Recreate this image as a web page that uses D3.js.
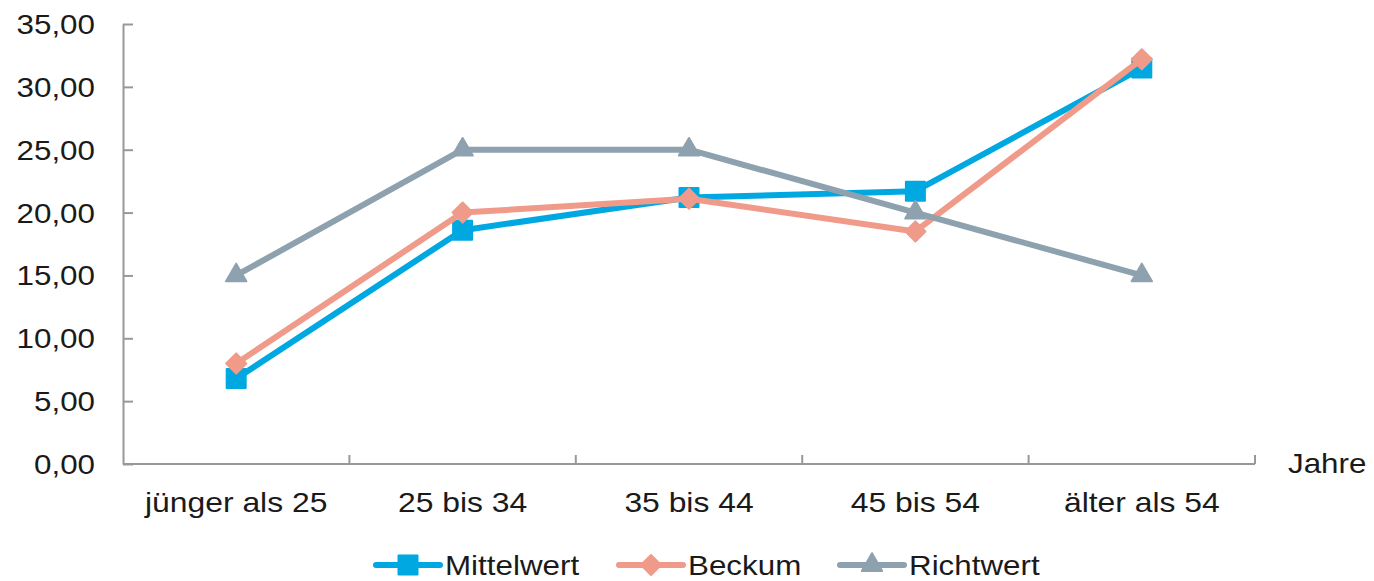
<!DOCTYPE html>
<html>
<head>
<meta charset="utf-8">
<script src="https://cdn.jsdelivr.net/npm/d3@7"></script>
<style>
  body { margin: 0; background: #fff; }
  text { font-family: "Liberation Sans", Arial, sans-serif; fill: #1a1a1a; }
</style>
</head>
<body>
<div id="chart"></div>
<script>
// data
var categories = ["jünger als 25", "25 bis 34", "35 bis 44", "45 bis 54", "älter als 54"];
var mittelwert = [6.8, 18.6, 21.2, 21.7, 31.5];
var beckum = [8.0, 20.0, 21.1, 18.5, 32.2];
var richtwert = [15, 25, 25, 20, 15];
var yTicks = [0, 5, 10, 15, 20, 25, 30, 35];

var width = 1374, height = 581;
var margin = { top: 24, right: 119, bottom: 117, left: 123 };
var innerW = width - margin.left - margin.right;
var innerH = height - margin.top - margin.bottom;
var axisColor = "#989898";

var svg = d3.select("#chart").append("svg")
  .attr("width", width)
  .attr("height", height);

var g = svg.append("g")
  .attr("transform", `translate(${margin.left}, ${margin.top})`);

var x = d3.scaleBand().domain(categories).range([0, innerW]);
var y = d3.scaleLinear().domain([0, 35]).range([innerH, 0]);

var fmt = d => d3.format(".2f")(d).replace(".", ",");

// the source text is a little stretched sideways
function addText(parent, tx, ty, str, size, anchor, sx) {
  return parent.append("text")
    .attr("transform", `translate(${tx}, ${ty}) scale(${sx || 1.12}, 1)`)
    .attr("text-anchor", anchor || "start")
    .style("font-size", size + "px")
    .text(str);
}

// y axis, ticks pointing inward
var leftAxis = d3.axisLeft(y).tickValues(yTicks).tickSizeInner(-10).tickSizeOuter(0).tickFormat("");
var yAxisG = g.append("g").call(leftAxis);
yAxisG.select(".domain").attr("stroke", axisColor).attr("stroke-width", 2);
yAxisG.selectAll(".tick line").attr("stroke", axisColor).attr("stroke-width", 2);
yTicks.forEach(function(t) {
  addText(g, -28, y(t) + 10, fmt(t), 28, "end");
});

// x axis, boundary ticks pointing up
var xAxisG = g.append("g").attr("transform", `translate(0, ${innerH})`);
xAxisG.append("line").attr("x1", 0).attr("x2", innerW).attr("y1", 0).attr("y2", 0)
  .attr("stroke", axisColor).attr("stroke-width", 2);
xAxisG.selectAll(".btick").data(categories).enter().append("line")
  .attr("x1", d => x(d) + x.bandwidth()).attr("x2", d => x(d) + x.bandwidth())
  .attr("y1", 0).attr("y2", -9)
  .attr("stroke", axisColor).attr("stroke-width", 2);
categories.forEach(function(c) {
  addText(xAxisG, x(c) + x.bandwidth() / 2, 48, c, 27, "middle", 1.18);
});

addText(g, innerW + 33, innerH + 9, "Jahre", 28, "start");

var diamond = {
  draw: function(ctx, size) {
    var r = Math.sqrt(size / 2);
    ctx.moveTo(0, -r); ctx.lineTo(r, 0); ctx.lineTo(0, r); ctx.lineTo(-r, 0); ctx.closePath();
  }
};

var series = [
  { name: "Mittelwert", values: mittelwert, color: "#00a8e1", symbol: d3.symbolSquare, size: 361 },
  { name: "Beckum", values: beckum, color: "#f09b8a", symbol: diamond, size: 200 },
  { name: "Richtwert", values: richtwert, color: "#8ea1ae", symbol: d3.symbolTriangle, size: 180 }
];

var line = d3.line()
  .x((d, i) => x(categories[i]) + x.bandwidth() / 2)
  .y(d => y(d));

series.forEach(function(s) {
  g.append("path")
    .datum(s.values)
    .attr("fill", "none")
    .attr("stroke", s.color)
    .attr("stroke-width", 6)
    .attr("stroke-linejoin", "round")
    .attr("d", line);
  g.selectAll(null).data(s.values).enter().append("path")
    .attr("d", d3.symbol().type(s.symbol).size(s.size))
    .attr("transform", (d, i) => `translate(${x(categories[i]) + x.bandwidth() / 2}, ${y(d)})`)
    .attr("fill", s.color)
    .attr("stroke", s.color)
    .attr("stroke-width", 2)
    .attr("stroke-linejoin", "round");
});

// legend
var legendX = [376, 619, 840];
var legendY = 565;
series.forEach(function(s, i) {
  var lg = svg.append("g").attr("transform", `translate(${legendX[i]}, ${legendY})`);
  lg.append("line").attr("x1", 0).attr("x2", 64).attr("y1", 0).attr("y2", 0)
    .attr("stroke", s.color).attr("stroke-width", 6).attr("stroke-linecap", "round");
  lg.append("path")
    .attr("d", d3.symbol().type(s.symbol).size(s.size))
    .attr("transform", "translate(32, 0)")
    .attr("fill", s.color)
    .attr("stroke", s.color)
    .attr("stroke-width", 2)
    .attr("stroke-linejoin", "round");
  addText(lg, 69, 10, s.name, 28, "start");
});
</script>
</body>
</html>
